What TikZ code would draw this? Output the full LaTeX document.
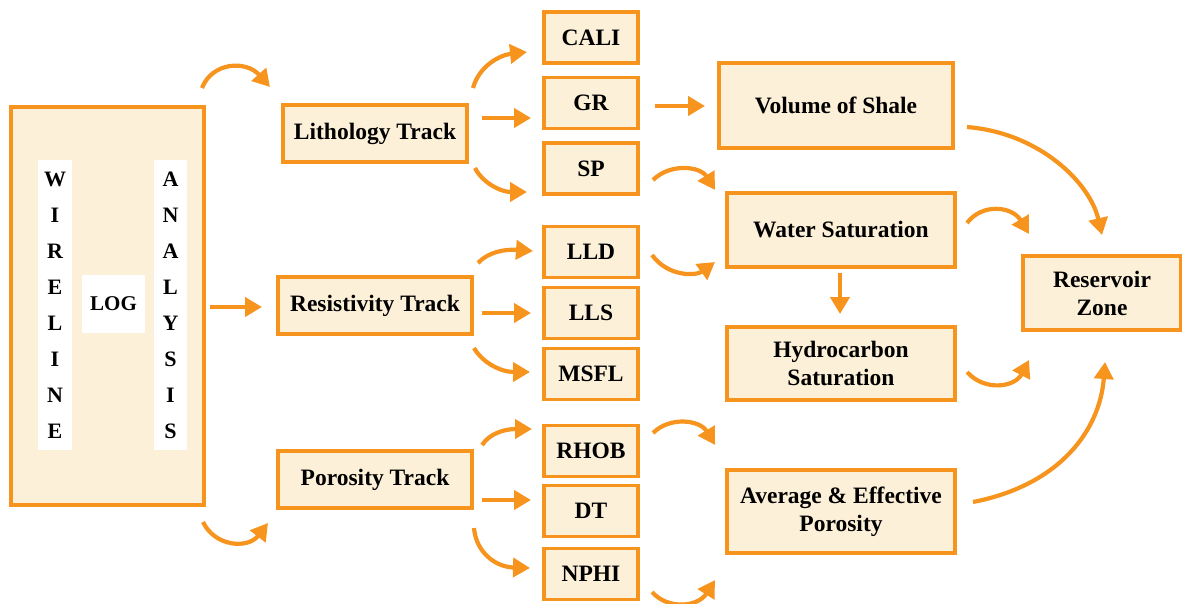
\documentclass[tikz,border=0pt]{standalone}
\usepackage{fontspec}
\setmainfont{Liberation Serif}
\usetikzlibrary{arrows.meta}
\definecolor{flowline}{RGB}{246,148,30}
\definecolor{boxfill}{RGB}{253,240,216}
\begin{document}
\begin{tikzpicture}[x=1pt,y=-1pt,
  box/.style={draw=flowline, fill=boxfill, line width=3.6pt, inner sep=0pt,
    align=center, font=\bfseries\fontsize{23.5}{28}\selectfont},
  whitecol/.style={fill=white, draw=none, inner sep=0pt},
  letter/.style={font=\bfseries\fontsize{22}{24}\selectfont, inner sep=0pt},
  flow/.style={draw=flowline, line width=4.2pt,
    -{Triangle[length=17pt,width=19pt]}}
]
\useasboundingbox (0,0) rectangle (1182,603);

% ---- source block ----
\node[box, minimum width=193pt, minimum height=398pt] (src) at (107.5,306) {};
\node[whitecol, minimum width=34pt, minimum height=290pt] (colw) at (55,305) {};
\node[whitecol, minimum width=33pt, minimum height=290pt] (cola) at (170.5,305) {};
\node[whitecol, minimum width=63pt, minimum height=58pt] (logbg) at (113.5,304) {};
\node[letter, font=\bfseries\fontsize{21}{24}\selectfont] (log) at (113.5,304) {LOG};
\foreach \ch [count=\i from 0] in {W,I,R,E,L,I,N,E}
  \node[letter] (w\i) at (55,179+36*\i) {\ch};
\foreach \ch [count=\i from 0] in {A,N,A,L,Y,S,I,S}
  \node[letter] (a\i) at (170.5,179+36*\i) {\ch};

% ---- tracks ----
\node[box, minimum width=184pt, minimum height=57pt] (lith) at (375,133.5) {Lithology Track};
\node[box, minimum width=194pt, minimum height=57pt] (res) at (375,305.5) {Resistivity Track};
\node[box, minimum width=194pt, minimum height=57pt] (por) at (375,479.5) {Porosity Track};

% ---- log curves ----
\foreach \nm/\txt/\yy in {cali/CALI/37.5, gr/GR/103, sp/SP/168.5,
    lld/LLD/252, lls/LLS/313, msfl/MSFL/374,
    rhob/RHOB/451, dt/DT/511, nphi/NPHI/574}
  \node[box, minimum width=94pt, minimum height=51pt] (\nm) at (591,\yy) {\txt};

% ---- derived properties ----
\node[box, minimum width=234pt, minimum height=85pt] (vsh) at (836,105.5) {Volume of Shale};
\node[box, minimum width=228pt, minimum height=74pt] (sw) at (841,230) {Water Saturation};
\node[box, minimum width=228pt, minimum height=73pt] (sh) at (841,363.5) {Hydrocarbon\\Saturation};
\node[box, minimum width=228pt, minimum height=83pt] (phi) at (841,511.5) {Average \& Effective\\Porosity};
\node[box, minimum width=158pt, minimum height=74pt] (rz) at (1102,293) {Reservoir\\Zone};

% ---- connector end points ----
\coordinate (s1) at (202,88);   \coordinate (e1) at (270,87);
\coordinate (s2) at (210,307);  \coordinate (e2) at (262,307);
\coordinate (s3) at (203,522);  \coordinate (e3) at (268,523);
\coordinate (s4) at (473,88);   \coordinate (e4) at (527,52);
\coordinate (s5) at (482,118);  \coordinate (e5) at (531,118);
\coordinate (s6) at (475,168);  \coordinate (e6) at (527,192);
\coordinate (s7) at (478,263);  \coordinate (e7) at (533,251);
\coordinate (s8) at (482,313);  \coordinate (e8) at (531,313);
\coordinate (s9) at (474,348);  \coordinate (e9) at (530,372);
\coordinate (s10) at (482,445); \coordinate (e10) at (532,429);
\coordinate (s11) at (482,500); \coordinate (e11) at (531,500);
\coordinate (s12) at (474,528); \coordinate (e12) at (530,568);
\coordinate (s13) at (655,106); \coordinate (e13) at (705,106);
\coordinate (s14) at (653,180); \coordinate (e14) at (715,190);
\coordinate (s15) at (652,255); \coordinate (e15) at (715,262);
\coordinate (s16) at (653,433); \coordinate (e16) at (715,445);
\coordinate (s17) at (652,592); \coordinate (e17) at (715,580);
\coordinate (s18) at (840,273); \coordinate (e18) at (840,314);
\coordinate (s19) at (967,127); \coordinate (e19) at (1102,235);
\coordinate (s20) at (967,223); \coordinate (e20) at (1029,234);
\coordinate (s21) at (967,372); \coordinate (e21) at (1029,360);
\coordinate (s22) at (973,502); \coordinate (e22) at (1105,362);

% ---- connectors ----
\draw[flow] (s1) .. controls (212,62) and (246,60) .. (e1);
\draw[flow] (s2) -- (e2);
\draw[flow] (s3) .. controls (215,547) and (248,549) .. (e3);
\draw[flow] (s4) .. controls (479,66) and (500,55) .. (e4);
\draw[flow] (s5) -- (e5);
\draw[flow] (s6) .. controls (482,182) and (500,192) .. (e6);
\draw[flow] (s7) .. controls (488,252) and (505,249) .. (e7);
\draw[flow] (s8) -- (e8);
\draw[flow] (s9) .. controls (482,362) and (500,372) .. (e9);
\draw[flow] (s10) .. controls (490,433) and (505,429) .. (e10);
\draw[flow] (s11) -- (e11);
\draw[flow] (s12) .. controls (476,552) and (495,567) .. (e12);
\draw[flow] (s13) -- (e13);
\draw[flow] (s14) .. controls (670,163) and (700,166) .. (e14);
\draw[flow] (s15) .. controls (668,277) and (696,276) .. (e15);
\draw[flow] (s16) .. controls (670,416) and (700,420) .. (e16);
\draw[flow] (s17) .. controls (668,610) and (698,607) .. (e17);
\draw[flow] (s18) -- (e18);
\draw[flow] (s19) .. controls (1040,133) and (1090,183) .. (e19);
\draw[flow] (s20) .. controls (982,203) and (1012,206) .. (e20);
\draw[flow] (s21) .. controls (985,392) and (1015,387) .. (e21);
\draw[flow] (s22) .. controls (1060,485) and (1100,430) .. (e22);
\end{tikzpicture}
\end{document}
